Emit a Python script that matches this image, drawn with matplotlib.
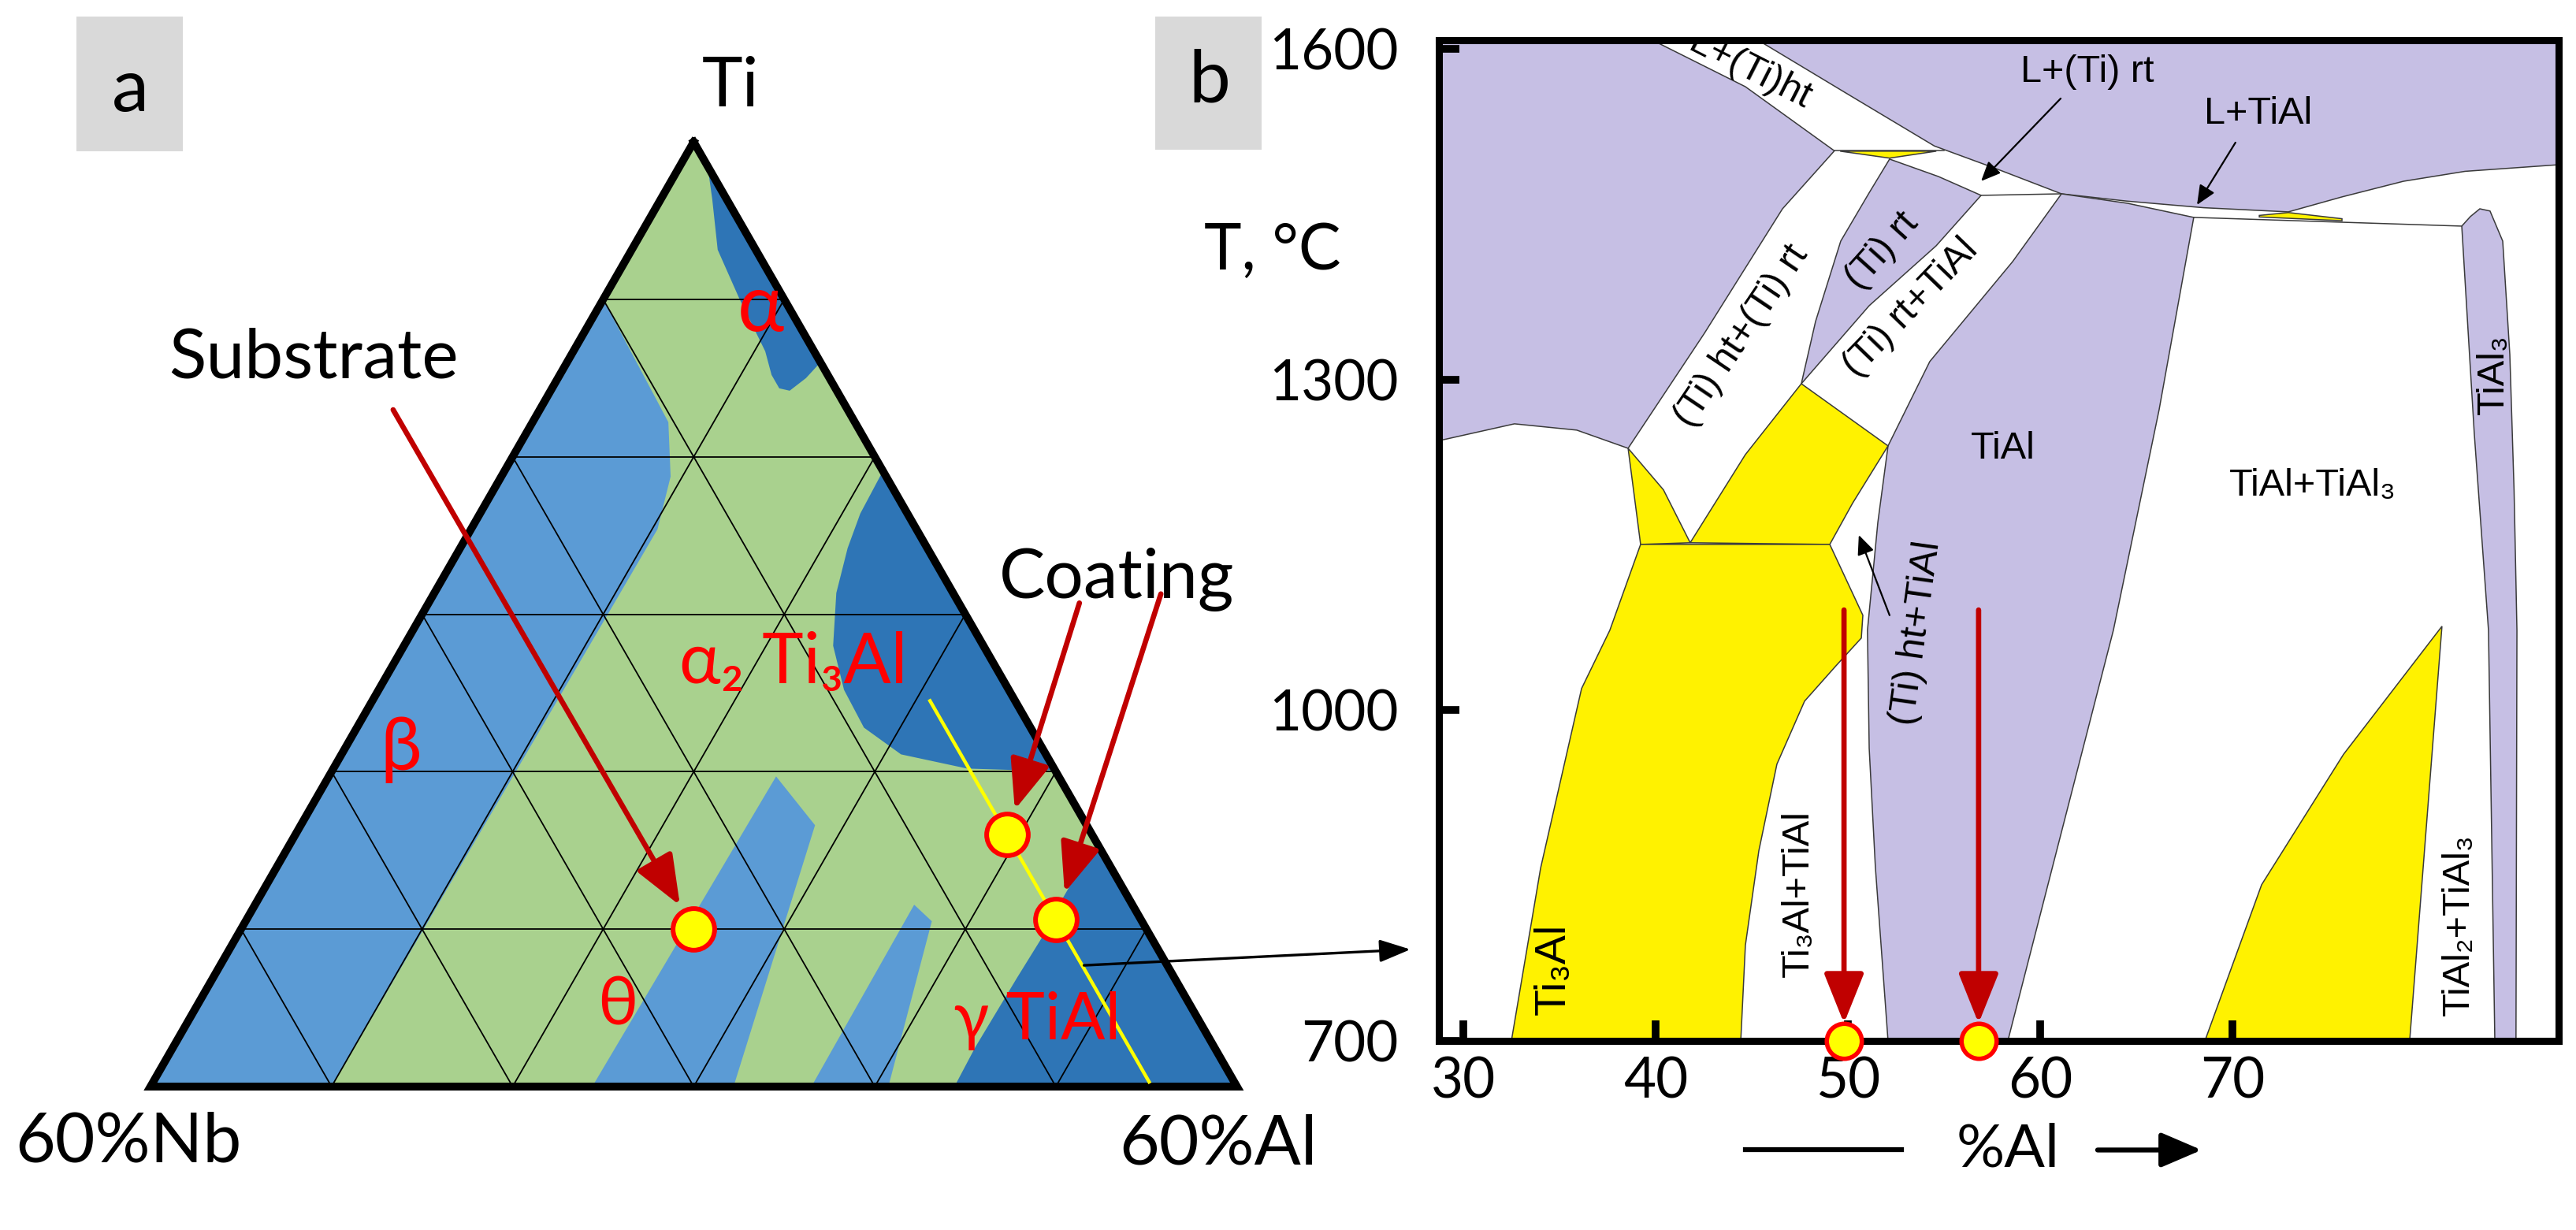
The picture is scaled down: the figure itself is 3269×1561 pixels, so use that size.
import numpy as np
import matplotlib
matplotlib.use("Agg")
import matplotlib.pyplot as plt
from matplotlib.patches import Rectangle

plt.rcParams['font.family'] = ['Lato', 'DejaVu Sans']
ARIAL = ['Liberation Sans', 'DejaVu Sans']

GREEN = '#a9d18e'
LBLUE = '#5b9bd5'
DBLUE = '#2e75b6'
PURPLE = '#c6bfe4'
YELLOW = '#fff200'
DARKRED = '#c00000'
RED = '#ff0000'
EDGE = '#3a3a3a'

# ---------- panel a : compositions in at.% (Nb, Al), Ti = balance ----------
tri_nb = [0, 60, 0]
tri_al = [0, 0, 60]
grid_levels = [10, 20, 30, 40, 50]

beta_nb = [10, 10.3, 11.9, 14.3, 50, 60]
beta_al = [0, 7.5, 9.35, 10.3, 10, 0]
theta1_nb = [15.6, 15.0, 27.8, 35.6]
theta1_al = [24.7, 28.4, 32.2, 24.4]
theta2_nb = [12.05, 11.6, 19.25, 23.5]
theta2_al = [36.4, 37.9, 40.75, 36.5]
alpha_nb = [0, 0.1, 0.8, 2.1, 2.45, 2.6, 2.7, 3.1, 3.1, 2.6, 1.3, 0]
alpha_al = [0, 1.7, 2.85, 4.75, 7.45, 9.35, 10.6, 11.7, 12.55, 13.2, 13.7, 14.0]
alpha2_nb = [0, 2.6, 4.4, 6.45, 8.3, 9.1, 9.2, 8.0, 4.8, 2.1, 0]
alpha2_al = [20.9, 21.0, 21.4, 22.2, 23.7, 25.7, 28.0, 30.9, 35.0, 37.8, 39.9]
gamma_nb = [0, 0.7, 2.3, 4.2, 6.0, 8.7, 13.2, 15.6, 0]
gamma_al = [45.0, 44.6, 44.4, 44.4, 44.5, 44.4, 44.3, 44.4, 60]

section_nb = [4.7, 4.7]
section_al = [30.8, 55.0]
substrate_comp = (25.0, 25.0)
coating_nb = [4.7, 4.7]
coating_al = [39.3, 44.7]
link_comp = (4.6, 47.7)

# ---------- panel b : (at.% Al axis, T in C) ----------
liq_x = [45.33, 50.0, 54.5, 57.7, 61.11, 64.5, 68.5, 72.91, 75.7, 78.9, 82.1, 86.97]
liq_T = [1608, 1559, 1512, 1491.5, 1468.6, 1462, 1456, 1452.2, 1465.8, 1480, 1489, 1495]
bsol_x = [39.84, 44.67, 49.30]
bsol_T = [1608, 1565.8, 1507.6]
l1_x = [49.30, 46.6, 42.54, 38.57]
l1_T = [1507.6, 1455, 1342.1, 1237.7]
bt_x = [38.57, 35.90, 32.66, 28.81, 28.73]
bt_T = [1237.7, 1254.2, 1259.9, 1244.9, 1245]
r1_x = [52.17, 51.1, 49.63, 48.32, 47.58]
r1_T = [1500.1, 1469.3, 1425.7, 1352.8, 1296.3]
d_x = [47.58, 51.11, 54.59, 56.93]
d_T = [1296.3, 1367.1, 1421.4, 1467.2]
c_x = [56.93, 54.71, 52.17]
c_T = [1467.2, 1484.3, 1500.1]
lens_x = [49.6, 54.6, 52.17]
lens_T = [1507.3, 1507.3, 1501.0]
tial_x = [61.11, 58.57, 54.26, 52.09, 51.56, 51.02, 51.11, 51.43, 52.09,
          58.32, 61.07, 63.81, 66.19, 67.99, 64.55]
tial_T = [1468.6, 1407.1, 1316.4, 1239.9, 1170.5, 1072.6, 965.4, 858, 700,
          700, 886.8, 1072.6, 1272.8, 1447.2, 1460]
tial3_x = [81.93, 82.58, 83.32, 83.65, 84.75, 84.8, 84.65, 84.43, 84.06, 83.4, 82.87, 82.38]
tial3_T = [1439.3, 1251.3, 1072.6, 700, 700, 1072.6, 1200, 1322.8, 1425.7, 1453, 1455, 1448]
perit_x = [67.99, 81.93]
perit_T = [1447.2, 1439.3]
sliver_x = [71.4, 72.91, 75.7, 75.7, 71.4]
sliver_T = [1449.0, 1451.6, 1446.0, 1444.2, 1447.6]
pent_x = [47.58, 52.09, 50.25, 49.06, 41.80, 44.67]
pent_T = [1296.3, 1239.9, 1188, 1150.5, 1152, 1232]
tri2_x = [38.57, 40.41, 41.80, 39.22]
tri2_T = [1237.7, 1200, 1152, 1150.5]
ti3al_x = [39.22, 49.06, 50.78, 50.70, 49.39, 47.75, 46.31, 45.37, 44.67, 44.43,
           32.5, 34.02, 36.15, 37.62]
ti3al_T = [1150.5, 1150.5, 1086.2, 1065.5, 1040.5, 1008.3, 951.1, 872.5, 786.7, 700,
           700, 856.8, 1019.7, 1072.6]
tial2_x = [68.57, 79.22, 80.9, 75.78, 71.52]
tial2_T = [700, 700, 1076.2, 960, 841.7]

xticks = [30, 40, 50, 60, 70]
yticks = [700, 1000, 1300, 1600]
sample_x = [49.8, 56.8]
sample_T = [700, 700]

H = np.sqrt(3) / 2


def tern(nb, al):
    nb = np.asarray(nb, float)
    al = np.asarray(al, float)
    return 30 + (al - nb) / 2, (60 - nb - al) * H


fig = plt.figure(figsize=(32.69, 15.61), dpi=100)

# ======================= panel a =======================
ax_a = fig.add_axes([0, 0, 1700 / 3269, 1])
ax_a.set_xlim(-8.31, 65.67)
ax_a.set_ylim(-7.89, 59.77)
ax_a.axis('off')

for nb, al, col in [(tri_nb, tri_al, GREEN), (beta_nb, beta_al, LBLUE),
                    (theta1_nb, theta1_al, LBLUE), (theta2_nb, theta2_al, LBLUE),
                    (alpha_nb, alpha_al, DBLUE), (alpha2_nb, alpha2_al, DBLUE),
                    (gamma_nb, gamma_al, DBLUE)]:
    x, y = tern(nb, al)
    ax_a.fill(x, y, color=col, lw=0)

for k in grid_levels:
    for p, q in [((k, 0), (0, k)), ((0, k), (60 - k, k)), ((k, 0), (k, 60 - k))]:
        x, y = tern([p[0], q[0]], [p[1], q[1]])
        ax_a.plot(x, y, color='black', lw=1.3)

x, y = tern(tri_nb + [tri_nb[0]], tri_al + [tri_al[0]])
ax_a.plot(x, y, color='black', lw=7.2, solid_joinstyle='miter')

x, y = tern(section_nb, section_al)
ax_a.plot(x, y, color='#ffff00', lw=3.2)

arrow_kw = dict(arrowstyle='-|>,head_length=0.65,head_width=0.26', color=DARKRED,
                lw=4.8, mutation_scale=60, shrinkA=0)
ax_a.annotate('', xy=tern(*substrate_comp), xytext=(13.40, 37.23),
              arrowprops=dict(shrinkB=25, **arrow_kw))
cx, cy = tern(coating_nb, coating_al)
ax_a.annotate('', xy=(cx[0], cy[0]), xytext=(51.3, 26.6),
              arrowprops=dict(shrinkB=24, **arrow_kw))
ax_a.annotate('', xy=(cx[1], cy[1]), xytext=(55.8, 27.1),
              arrowprops=dict(shrinkB=26, **arrow_kw))

sx, sy = tern(*substrate_comp)
ax_a.plot([sx] + list(cx), [sy] + list(cy), 'o', ms=38, mfc='#ffff00', mec=RED, mew=4.3)

ax_a.text(9.01, 38.97, 'Substrate', fontsize=63, ha='center', va='baseline')
ax_a.text(53.37, 26.87, 'Coating', fontsize=63, ha='center', va='baseline')
ax_a.text(32.03, 53.92, 'Ti', fontsize=63, ha='center', va='baseline')
ax_a.text(-1.24, -4.12, '60%Nb', fontsize=63, ha='center', va='baseline')
ax_a.text(58.96, -4.25, '60%Al', fontsize=63, ha='center', va='baseline')
ax_a.text(33.72, 42.78, 'α', fontsize=72, color=RED, ha='center', va='center')
ax_a.text(13.84, 18.51, 'β', fontsize=68, color=RED, ha='center', va='center')
ax_a.text(25.8, 4.42, 'θ', fontsize=62, color=RED, ha='center', va='center')
ax_a.text(29.2, 22.19, 'α₂ Ti₃Al', fontsize=64, color=RED, ha='left', va='baseline')
ax_a.text(44.34, 2.60, 'γ TiAl', fontsize=60, color=RED, ha='left', va='baseline')

# panel letters
fig.patches.append(Rectangle((97 / 3269, 1 - 192 / 1561), 135 / 3269, 171 / 1561,
                             transform=fig.transFigure, color='#d9d9d9', lw=0))
fig.patches.append(Rectangle((1466 / 3269, 1 - 190 / 1561), 135 / 3269, 169 / 1561,
                             transform=fig.transFigure, color='#d9d9d9', lw=0))
fig.text(165 / 3269, 1 - 115 / 1561, 'a', fontsize=68, ha='center', va='center')
fig.text(1535 / 3269, 1 - 104 / 1561, 'b', fontsize=68, ha='center', va='center')
fig.text(1528 / 3269, 1 - 342 / 1561, 'T, °C', fontsize=58, ha='left', va='baseline')

# ======================= panel b =======================
ax_b = fig.add_axes([1826 / 3269, (1561 - 1321) / 1561, (3247 - 1826) / 3269, (1321 - 51) / 1561])
ax_b.set_xlim(28.73, 86.97)
ax_b.set_ylim(700, 1608)

xl, xr = ax_b.get_xlim()
yb, yt = ax_b.get_ylim()

# liquid (top) and beta (top-left) fields
ax_b.fill([xl] + bsol_x + l1_x[1:] + bt_x[1:] + [xl], [yt] + bsol_T + l1_T[1:] + bt_T[1:] + [yt],
          facecolor=PURPLE, edgecolor=EDGE, lw=1.1)
ax_b.fill(liq_x + [xr, xr], liq_T + [yt, yt], facecolor=PURPLE, edgecolor=EDGE, lw=1.1)
# (Ti) rt field
ax_b.fill(r1_x + d_x[1:] + c_x[1:], r1_T + d_T[1:] + c_T[1:], facecolor=PURPLE, edgecolor=EDGE, lw=1.1)
ax_b.fill(tial_x, tial_T, facecolor=PURPLE, edgecolor=EDGE, lw=1.1)
ax_b.fill(tial3_x, tial3_T, facecolor=PURPLE, edgecolor=EDGE, lw=1.1)
for px, pt in [(pent_x, pent_T), (tri2_x, tri2_T), (ti3al_x, ti3al_T), (tial2_x, tial2_T),
               (lens_x, lens_T), (sliver_x, sliver_T)]:
    ax_b.fill(px, pt, facecolor=YELLOW, edgecolor=EDGE, lw=1.1)
ax_b.plot(perit_x, perit_T, color=EDGE, lw=1.1)
ax_b.plot([49.30, 55.0], [1507.6, 1507.6], color=EDGE, lw=1.1)
ax_b.plot([56.93, 61.11], [1467.2, 1468.6], color=EDGE, lw=1.1)

lab = dict(family=ARIAL, fontsize=35, ha='center', va='center', rotation_mode='anchor')
ax_b.text(44.9, 1580, 'L+(Ti)ht', rotation=-27, clip_on=True, **lab)
ax_b.text(44.47, 1339.2, '(Ti) ht+(Ti) rt', rotation=56, **lab)
ax_b.text(51.8, 1417, '(Ti) rt', rotation=48, **lab)
ax_b.text(53.28, 1365, '(Ti) rt+TiAl', rotation=46, **lab)
ax_b.text(58.07, 1237, 'TiAl', **lab)
ax_b.text(74.18, 1204, 'TiAl+TiAl₃', **lab)
ax_b.text(83.6, 1305, 'TiAl₃', rotation=90, **lab)
ax_b.text(53.57, 1070, '(Ti) ht+TiAl', rotation=82, **lab)
ax_b.text(34.71, 765, 'Ti₃Al', rotation=90, **dict(lab, fontsize=40))
ax_b.text(47.42, 834, 'Ti₃Al+TiAl', rotation=90, **lab)
ax_b.text(81.76, 805, 'TiAl₂+TiAl₃', rotation=90, **lab)
ax_b.text(62.46, 1579.4, 'L+(Ti) rt', **lab)
ax_b.text(71.35, 1540.8, 'L+TiAl', **lab)

small = dict(arrowstyle='-|>,head_length=0.5,head_width=0.22', color='black', lw=1.6,
             mutation_scale=30, shrinkA=0, shrinkB=0)
ax_b.annotate('', xy=(56.93, 1480.1), xytext=(61.07, 1555.1), arrowprops=small)
ax_b.annotate('', xy=(68.16, 1458.6), xytext=(70.16, 1515.1), arrowprops=small)
ax_b.annotate('', xy=(50.57, 1159), xytext=(52.17, 1086.2), arrowprops=small)

for xs in sample_x:
    ax_b.annotate('', xy=(xs, 700), xytext=(xs, 1091),
                  arrowprops=dict(shrinkB=16, **arrow_kw), annotation_clip=False)
ax_b.plot(sample_x, sample_T, 'o', ms=32, mfc='#ffff00', mec=RED, mew=4.0, clip_on=False, zorder=5)

for s in ax_b.spines.values():
    s.set_linewidth(6.5)
ax_b.set_xticks(xticks)
ax_b.set_yticks(yticks)
ax_b.tick_params(direction='in', length=19, width=7, labelsize=51, pad=14)
ax_b.tick_params(axis='y', pad=37)

ax_b.text(58.32, 601, '%Al', fontsize=55, ha='center', va='center', clip_on=False)
ax_b.plot([44.67, 52.79], [601, 601], color='black', lw=4.5, clip_on=False)
ax_b.annotate('', xy=(68.4, 601), xytext=(62.99, 601), annotation_clip=False,
              arrowprops=dict(arrowstyle='-|>,head_length=0.7,head_width=0.3', color='black',
                              lw=4.5, mutation_scale=45, shrinkA=0, shrinkB=0))

# link arrow from the section line to panel b
ax_b.annotate('', xy=(27.25, 783), xycoords='data', xytext=tern(*link_comp),
              textcoords=ax_a.transData, annotation_clip=False,
              arrowprops=dict(arrowstyle='-|>,head_length=0.6,head_width=0.22', color='black',
                              lw=2.4, mutation_scale=40, shrinkA=0, shrinkB=0))

fig.savefig('out.png', dpi=100)
